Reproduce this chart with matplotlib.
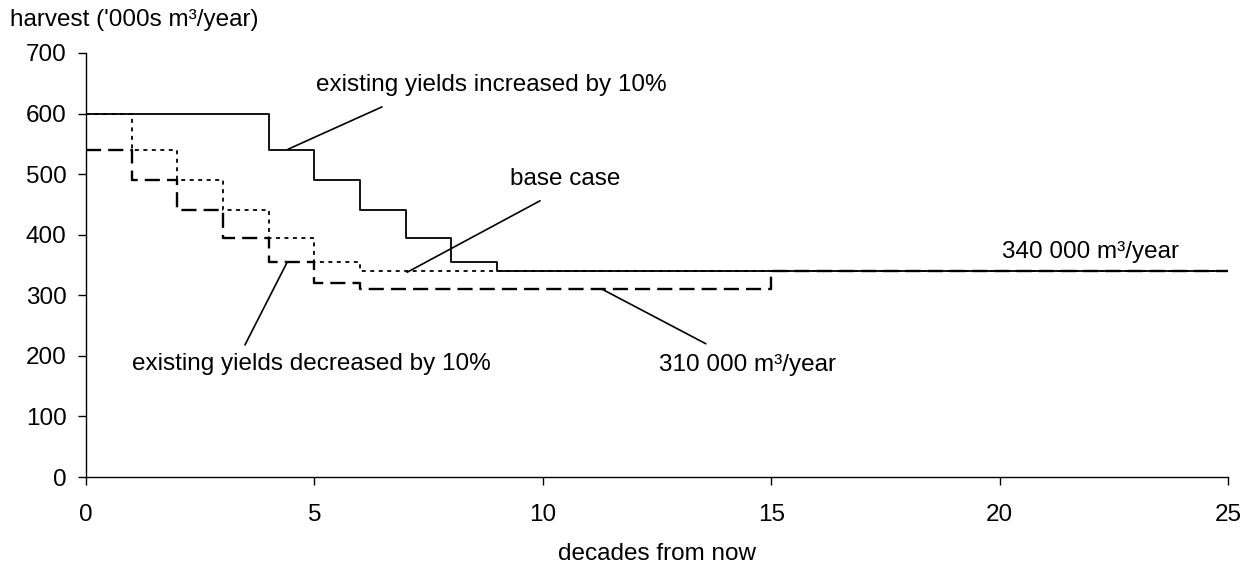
import matplotlib
matplotlib.use('Agg')
import matplotlib.pyplot as plt

plt.rcParams['font.family'] = ['Liberation Sans', 'DejaVu Sans']

# step data: decade where each level starts, harvest ('000s m3/year)
inc_x = [0, 4, 5, 6, 7, 8, 9, 25]
inc_y = [600, 540, 490, 440, 395, 355, 340, 340]

base_x = [0, 1, 2, 3, 4, 5, 6, 25]
base_y = [600, 540, 490, 440, 395, 355, 340, 340]

dec_x = [0, 1, 2, 3, 4, 5, 6, 15, 25]
dec_y = [540, 490, 440, 395, 355, 320, 310, 340, 340]

# labels: (text, text position, leader start on curve, leader end)
labels = [
    ('existing yields increased by 10%', (8.87, 647), (4.42, 541), (6.48, 611)),
    ('base case', (10.49, 492), (7.03, 338), (9.94, 456)),
    ('existing yields decreased by 10%', (4.94, 187), (4.40, 354), (3.48, 218)),
    ('310 000 m³/year', (14.49, 185), (11.30, 310), (13.57, 220)),
    ('340 000 m³/year', (22.0, 371), None, None),
]

fig = plt.figure(figsize=(12.46, 5.68), dpi=100)
ax = fig.add_axes([0.069, 0.1602, 0.9165, 0.7465])

ax.plot(dec_x, dec_y, drawstyle='steps-post', color='black', lw=1.7,
        linestyle=(0, (6.4, 3.0)))
ax.plot(base_x, base_y, drawstyle='steps-post', color='black', lw=1.3,
        linestyle=(0, (2.2, 2.5)))
ax.plot(inc_x, inc_y, drawstyle='steps-post', color='black', lw=1.3)

ax.set_xlim(0, 25)
ax.set_ylim(0, 700)
ax.set_xticks(range(0, 26, 5))
ax.set_yticks(range(0, 701, 100))
for s in ['top', 'right']:
    ax.spines[s].set_visible(False)
ax.spines['left'].set_linewidth(1)
ax.spines['bottom'].set_linewidth(1)
ax.tick_params(labelsize=17.5, length=6, width=1)
ax.tick_params(axis='y', pad=8)
ax.tick_params(axis='x', pad=13.5)

fs = 17.5
fig.text(0.008, 1 - 20 / 568, "harvest ('000s m³/year)", fontsize=fs,
         ha='left', va='center')
ax.set_xlabel('decades from now', fontsize=fs, labelpad=12)

for txt, pos, start, end in labels:
    ax.text(pos[0], pos[1], txt, fontsize=fs, ha='center', va='center')
    if start is not None:
        ax.annotate('', xy=start, xytext=end,
                    arrowprops=dict(arrowstyle='-', color='black', lw=1.2,
                                    shrinkA=0, shrinkB=0))

fig.savefig('out.png', dpi=100)
